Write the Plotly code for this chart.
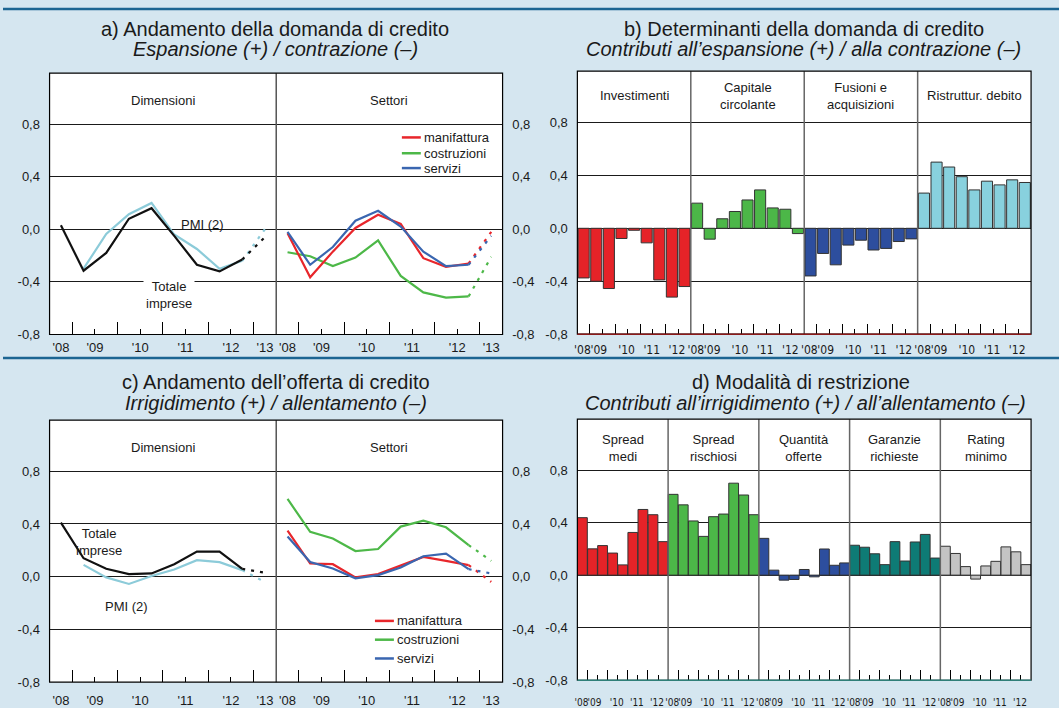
import plotly.graph_objects as go

W, H = 1059, 708

# ---------------------------------------------------------------- data
# semiannual survey periods (middle of each half-year) and the forecast period
periodi = [2008.75, 2009.25, 2009.75, 2010.25, 2010.75, 2011.25, 2011.75, 2012.25, 2012.75]
periodo_prev = 2013.25

# a) Andamento della domanda di credito
dom_totale = [0.03, -0.315, -0.18, 0.08, 0.16, -0.05, -0.27, -0.32, -0.23]
dom_pmi = [None, -0.30, -0.035, 0.115, 0.20, -0.04, -0.15, -0.30, -0.24]
dom_manifattura = [-0.03, -0.365, -0.17, 0.01, 0.11, 0.04, -0.22, -0.285, -0.26]
dom_costruzioni = [-0.175, -0.205, -0.28, -0.215, -0.085, -0.355, -0.48, -0.52, -0.51]
dom_servizi = [-0.02, -0.27, -0.135, 0.065, 0.14, 0.02, -0.17, -0.28, -0.27]
dom_totale_prev = -0.06
dom_pmi_prev = 0.0
dom_manifattura_prev = -0.02
dom_costruzioni_prev = -0.21
dom_servizi_prev = -0.05

# c) Andamento dell'offerta di credito
off_totale = [0.41, 0.14, 0.06, 0.02, 0.025, 0.095, 0.19, 0.19, 0.06]
off_pmi = [None, 0.09, -0.005, -0.055, 0.005, 0.055, 0.125, 0.11, 0.05]
off_manifattura = [0.35, 0.10, 0.095, -0.005, 0.02, 0.088, 0.15, 0.12, 0.088]
off_costruzioni = [0.59, 0.34, 0.29, 0.195, 0.21, 0.38, 0.425, 0.375, 0.24]
off_servizi = [0.305, 0.112, 0.062, -0.012, 0.012, 0.07, 0.155, 0.175, 0.057]
off_totale_prev = 0.03
off_pmi_prev = -0.04
off_manifattura_prev = -0.04
off_costruzioni_prev = 0.12
off_servizi_prev = 0.025

# b) Determinanti della domanda di credito (one bar per semester, 2008-II .. 2012-II)
investimenti = [-0.375, -0.40, -0.455, -0.077, -0.015, -0.11, -0.39, -0.52, -0.44]
capitale_circolante = [0.19, -0.082, 0.072, 0.127, 0.214, 0.29, 0.154, 0.144, -0.04]
fusioni_acquisizioni = [-0.36, -0.19, -0.276, -0.127, -0.09, -0.164, -0.152, -0.10, -0.08]
ristrutturazione_debito = [0.266, 0.50, 0.463, 0.39, 0.29, 0.356, 0.328, 0.366, 0.346]

# d) Modalità di restrizione
spread_medi = [0.4375, 0.20, 0.225, 0.168, 0.078, 0.325, 0.50, 0.46, 0.255]
spread_rischiosi = [0.615, 0.535, 0.4125, 0.295, 0.445, 0.465, 0.70, 0.61, 0.46]
quantita_offerte = [0.28, 0.038, -0.038, -0.033, 0.043, -0.013, 0.199, 0.075, 0.093]
garanzie_richieste = [0.2275, 0.2125, 0.1625, 0.08, 0.255, 0.1075, 0.2525, 0.31, 0.13]
rating_minimo = [0.22, 0.165, 0.065, -0.03, 0.07, 0.105, 0.215, 0.1775, 0.08]

# tick labels
y_tick_vals = [-0.8, -0.4, 0.0, 0.4, 0.8]
y_tick_text = ["-0,8", "-0,4", "0,0", "0,4", "0,8"]
anni_lbl = ["'08", "'09", "'10", "'11", "'12", "'13"]
anni_lbl_pos = [2008.75, 2009.5, 2010.5, 2011.5, 2012.5, 2013.25]
inizio_anno = [2009, 2010, 2011, 2012, 2013]
meta_anno = [2009.5, 2010.5, 2011.5, 2012.5]
barre_lbl = ["'08", "'09", "'10", "'11", "'12"]
barre_lbl_pos = [0.4, 1.7, 3.9, 5.9, 7.9]
barre_inizio_anno = [1, 3, 5, 7]
barre_meta_anno = [2, 4, 6, 8]

# ---------------------------------------------------------------- style
FONT = "Liberation Sans, Arial, sans-serif"
FONT_NARROW = "Liberation Sans Narrow, DejaVu Sans Condensed, Arial Narrow, sans-serif"
BG = "#d5e6f0"
RULE = "#1c6592"
GRID = "#1a1a1a"
TXT = "#1a1a1a"
C_NERO = "#111111"
C_PMI = "#8ccbd9"
C_ROSSO = "#e8262b"
C_VERDE = "#4db848"
C_BLU = "#3a66b0"
B_ROSSO = "#e52328"
B_VERDE = "#4cb748"
B_BLU = "#2d4e9e"
B_CIANO = "#88d1de"
B_TEAL = "#0e7b75"
B_GRIGIO = "#c4c4c4"
Y_RANGE = [-0.8, 1.187]
XL = [2008.5, 2013.5]


def xd(p):
    return p / W


def yd(p):
    return 1 - p / H


def axkey(kind, n):
    return f"{kind}axis" if n == 1 else f"{kind}axis{n}"


def ref(kind, n):
    return kind if n == 1 else f"{kind}{n}"


layout = {}
shapes = []
annotations = []
traces = []


def y_axis(yn, xn, ytop, ybot, side, grid=True, overlay=None):
    d = dict(range=Y_RANGE, anchor=ref("x", xn), side=side,
             tickmode="array", tickvals=y_tick_vals, ticktext=y_tick_text,
             ticks="outside", ticklen=6, tickcolor="rgba(0,0,0,0)",
             tickfont=dict(size=13, color=TXT, family=FONT),
             showgrid=grid, gridcolor=GRID, gridwidth=1,
             zeroline=False, showline=False, fixedrange=True)
    if overlay:
        d["overlaying"] = overlay
    else:
        d["domain"] = [yd(ybot), yd(ytop)]
    layout[axkey("y", yn)] = d


def x_axes(xn, yn, x0, x1, rng, lbl_pos, lbl, short, tall, font, size, tall_len, gap):
    # labelled axis
    layout[axkey("x", xn)] = dict(
        domain=[xd(x0), xd(x1)], range=rng, anchor=ref("y", yn),
        tickmode="array", tickvals=lbl_pos, ticktext=lbl, tickangle=0,
        ticks="outside", ticklen=gap, tickcolor="rgba(0,0,0,0)",
        tickfont=dict(size=size, color=TXT, family=font),
        showgrid=False, zeroline=False, showline=False, fixedrange=True)
    # tick marks drawn inside the frame: short at mid-year, tall at year start
    layout[axkey("x", xn + 1)] = dict(
        overlaying=ref("x", xn), anchor=ref("y", yn), range=rng,
        tickmode="array", tickvals=short, ticks="inside", ticklen=5,
        tickcolor="#000", tickwidth=1, showticklabels=False,
        showgrid=False, zeroline=False, showline=False, fixedrange=True,
        minor=dict(tickmode="array", tickvals=tall, ticks="inside",
                   ticklen=tall_len, tickcolor="#000", tickwidth=1, showgrid=False))
    # empty trace so that the tick-mark axis is rendered
    traces.append(go.Scatter(x=[None], y=[None], mode="lines", showlegend=False,
                             xaxis=ref("x", xn + 1), yaxis=ref("y", yn), hoverinfo="skip"))


def line(xn, yn, vals, color, name, prev=None, x=periodi):
    xs = [xv for xv, v in zip(x, vals) if v is not None]
    ys = [v for v in vals if v is not None]
    traces.append(go.Scatter(x=xs, y=ys, mode="lines", name=name,
                             line=dict(color=color, width=2.2),
                             xaxis=ref("x", xn), yaxis=ref("y", yn),
                             hoverinfo="skip"))
    if prev is not None:
        traces.append(go.Scatter(x=[xs[-1], periodo_prev], y=[ys[-1], prev],
                                 mode="lines", name=name + " (previsioni)",
                                 line=dict(color=color, width=2.2, dash="3px,6px"),
                                 xaxis=ref("x", xn), yaxis=ref("y", yn),
                                 hoverinfo="skip"))


def text(x, y, t, size=13, xanchor="center", xref="paper", yref="paper", **kw):
    annotations.append(dict(x=x, y=y, text=t, xref=xref, yref=yref, showarrow=False,
                            xanchor=xanchor, yanchor="middle",
                            font=dict(size=size, color=TXT, family=FONT), **kw))


def frame(x0, x1, ytop, ybot, bottom_color=None):
    shapes.append(dict(type="rect", xref="paper", yref="paper",
                       x0=xd(x0), x1=xd(x1), y0=yd(ybot), y1=yd(ytop),
                       line=dict(color="#000", width=1.2), layer="above"))
    if bottom_color:
        shapes.append(dict(type="line", xref="paper", yref="paper",
                           x0=xd(x0), x1=xd(x1), y0=yd(ybot), y1=yd(ybot),
                           line=dict(color=bottom_color, width=1.6), layer="above"))


def legend_block(x_line, y_rows, names, colors):
    for yy, nm, col in zip(y_rows, names, colors):
        shapes.append(dict(type="line", xref="paper", yref="paper",
                           x0=xd(x_line), x1=xd(x_line + 19), y0=yd(yy), y1=yd(yy),
                           line=dict(color=col, width=2.5), layer="above"))
        text(xd(x_line + 20), yd(yy), nm, xanchor="left")


# ---------------------------------------------------------------- panel geometry (pixels)
AX0, AXM, AX1 = 46.7, 274.0, 501.0
BX0, BX1 = 576.0, 1031.0
TOP_A, BOT_A = 74.0, 338.3
TOP_C, BOT_C = 425.0, 690.0
TOP_B, BOT_B = 72.0, 338.0
TOP_D, BOT_D = 424.0, 688.0

# ---------------------------------------------------------------- panel a
x_axes(1, 1, AX0, AXM, XL, anni_lbl_pos, anni_lbl, meta_anno, inizio_anno, FONT, 13, 12, 1)
x_axes(3, 2, AXM, AX1, XL, anni_lbl_pos, anni_lbl, meta_anno, inizio_anno, FONT, 13, 12, 1)
y_axis(1, 1, TOP_A, BOT_A, "left")
y_axis(2, 3, TOP_A, BOT_A, "right")
line(1, 1, dom_pmi, C_PMI, "PMI (2)", dom_pmi_prev)
line(1, 1, dom_totale, C_NERO, "Totale imprese", dom_totale_prev)
line(3, 2, dom_costruzioni, C_VERDE, "costruzioni", dom_costruzioni_prev)
line(3, 2, dom_manifattura, C_ROSSO, "manifattura", dom_manifattura_prev)
line(3, 2, dom_servizi, C_BLU, "servizi", dom_servizi_prev)

# ---------------------------------------------------------------- panel c
x_axes(7, 5, AX0, AXM, XL, anni_lbl_pos, anni_lbl, meta_anno, inizio_anno, FONT, 13, 12, 6)
x_axes(9, 6, AXM, AX1, XL, anni_lbl_pos, anni_lbl, meta_anno, inizio_anno, FONT, 13, 12, 6)
y_axis(5, 7, TOP_C, BOT_C, "left")
y_axis(6, 9, TOP_C, BOT_C, "right")
line(7, 5, off_pmi, C_PMI, "PMI (2)", off_pmi_prev)
line(7, 5, off_totale, C_NERO, "Totale imprese", off_totale_prev)
line(9, 6, off_costruzioni, C_VERDE, "costruzioni", off_costruzioni_prev)
line(9, 6, off_manifattura, C_ROSSO, "manifattura", off_manifattura_prev)
line(9, 6, off_servizi, C_BLU, "servizi", off_servizi_prev)


# ---------------------------------------------------------------- bar panels
def bar_panel(xn, yn, yr, x0, x1, ytop, ybot, series, names, colors, width,
              bottom_color, lbl_y, lbl_size, gap):
    n = len(series[0])
    k = len(series)
    rng = [0, n * k]
    lbl_pos = [s * n + p for s in range(k) for p in barre_lbl_pos]
    lbl = barre_lbl * k
    short = [s * n + p for s in range(k) for p in barre_meta_anno]
    tall = [s * n + p for s in range(k) for p in barre_inizio_anno]
    x_axes(xn, yn, x0, x1, rng, lbl_pos, lbl, short, tall, FONT_NARROW, lbl_size, 10, gap)
    y_axis(yn, xn, ytop, ybot, "left")
    y_axis(yr, xn, ytop, ybot, "right", grid=False, overlay=ref("y", yn))
    for s, (vals, nm, col) in enumerate(zip(series, names, colors)):
        traces.append(go.Bar(x=[s * n + i + 0.5 for i in range(n)], y=vals, width=width,
                             name=nm.replace("<br>", " "),
                             marker=dict(color=col, line=dict(color="#333333", width=1)),
                             xaxis=ref("x", xn), yaxis=ref("y", yn), hoverinfo="skip"))
        text(s * n + n / 2, yd(lbl_y), nm, xref=ref("x", xn))
        if s > 0:
            shapes.append(dict(type="line", xref=ref("x", xn), yref=ref("y", yn) + " domain",
                               x0=s * n, x1=s * n, y0=0, y1=1,
                               line=dict(color="#666666", width=1.5), layer="above"))
    frame(x0, x1, ytop, ybot, bottom_color)


bar_panel(5, 3, 4, BX0, BX1, TOP_B, BOT_B,
          [investimenti, capitale_circolante, fusioni_acquisizioni, ristrutturazione_debito],
          ["Investimenti", "Capitale<br>circolante", "Fusioni e<br>acquisizioni", "Ristruttur. debito"],
          [B_ROSSO, B_VERDE, B_BLU, B_CIANO], 0.88, "#8b1a1a", 97, 12, 4)

bar_panel(11, 7, 8, BX0, BX1, TOP_D, BOT_D,
          [spread_medi, spread_rischiosi, quantita_offerte, garanzie_richieste, rating_minimo],
          ["Spread<br>medi", "Spread<br>rischiosi", "Quantità<br>offerte", "Garanzie<br>richieste", "Rating<br>minimo"],
          [B_ROSSO, B_VERDE, B_BLU, B_TEAL, B_GRIGIO], 0.97, "#2f7f78", 453, 10, 13)

# ---------------------------------------------------------------- frames, dividers, labels of line panels
for top, bot in ((TOP_A, BOT_A), (TOP_C, BOT_C)):
    shapes.append(dict(type="line", xref="paper", yref="paper", x0=xd(AXM), x1=xd(AXM),
                       y0=yd(bot), y1=yd(top), line=dict(color="#555555", width=1.5), layer="above"))
    frame(AX0, AX1, top, bot)
    text(xd((AX0 + AXM) / 2), yd(top + 28), "Dimensioni")
    text(xd((AXM + AX1) / 2), yd(top + 28), "Settori")

# series labels (panel a)
text(2011.88, 0.035, "PMI (2)", xref="x", yref="y")
text(2011.13, -0.50, "Totale<br>imprese", xref="x", yref="y", bgcolor="white", borderpad=2)
# series labels (panel c)
text(2009.58, 0.265, "Totale<br>imprese", xref="x7", yref="y5")
text(2010.2, -0.225, "PMI (2)", xref="x7", yref="y5")

# legends
legend_block(400, [139, 155, 170], ["manifattura", "costruzioni", "servizi"], [C_ROSSO, C_VERDE, C_BLU])
shapes.append(dict(type="rect", xref="paper", yref="paper", x0=xd(362), x1=xd(468),
                   y0=yd(676), y1=yd(618), fillcolor="white", line=dict(width=0), layer="between"))
legend_block(373, [628, 647, 666], ["manifattura", "costruzioni", "servizi"], [C_ROSSO, C_VERDE, C_BLU])

# ---------------------------------------------------------------- titles and rules
for y in (9, 362):
    shapes.append(dict(type="line", xref="paper", yref="paper", x0=0, x1=1, y0=yd(y), y1=yd(y),
                       line=dict(color=RULE, width=2.5), layer="above"))

text(xd(273), yd(29), "a) Andamento della domanda di credito", size=20)
text(xd(273), yd(50), "<i>Espansione (+) / contrazione (–)</i>", size=20)
text(xd(803), yd(29), "b) Determinanti della domanda di credito", size=20)
text(xd(803), yd(50), "<i>Contributi all’espansione (+) / alla contrazione (–)</i>", size=20)
text(xd(274), yd(386), "c) Andamento dell’offerta di credito", size=20)
text(xd(274), yd(408), "<i>Irrigidimento (+) / allentamento (–)</i>", size=20)
text(xd(800), yd(386), "d) Modalità di restrizione", size=20)
text(xd(805), yd(408), "<i>Contributi all’irrigidimento (+) / all’allentamento (–)</i>", size=20)

fig = go.Figure(data=traces)
fig.update_layout(
    width=W, height=H, margin=dict(l=0, r=0, t=0, b=0),
    paper_bgcolor=BG, plot_bgcolor="white",
    showlegend=False, barmode="overlay",
    font=dict(family=FONT, size=13, color=TXT),
    shapes=shapes, annotations=annotations,
    **layout,
)
fig.write_html("out.html")
